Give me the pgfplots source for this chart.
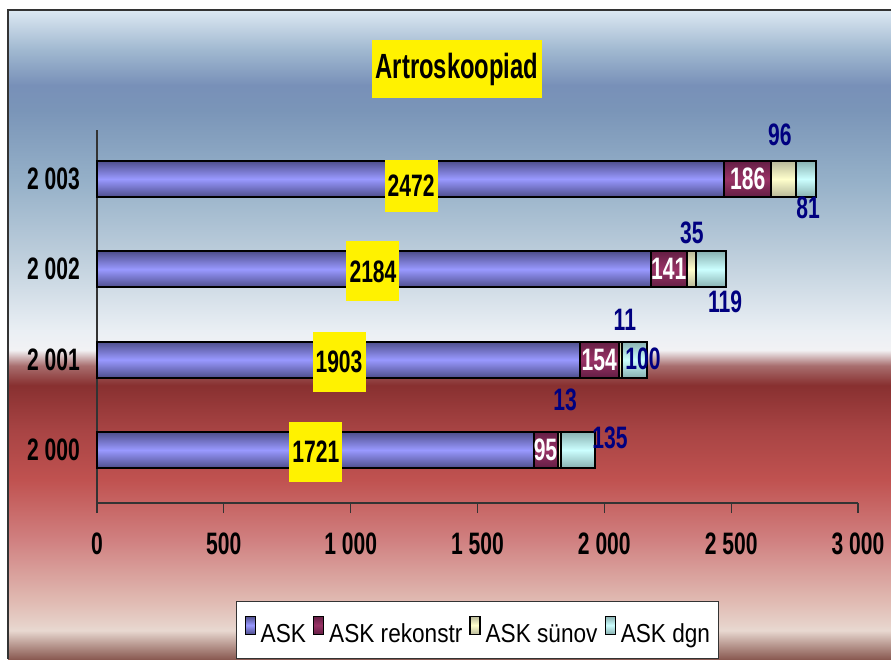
\documentclass[border=0pt]{standalone}
\usepackage{fontspec}
\setmainfont[FakeStretch=0.87]{Liberation Sans}
\newfontfamily\bn[FakeStretch=0.68]{Liberation Sans Bold}
\usepackage{pgfplots}
\pgfplotsset{compat=1.18}
\definecolor{askM}{HTML}{9999FF}\definecolor{askD}{HTML}{4E4E8C}
\definecolor{rekM}{HTML}{993366}\definecolor{rekD}{HTML}{641E44}
\definecolor{sunM}{HTML}{FFFFCC}\definecolor{sunD}{HTML}{B8B898}
\definecolor{dgnM}{HTML}{CCFFFF}\definecolor{dgnD}{HTML}{88B0B0}
\definecolor{navy}{HTML}{000080}
\definecolor{bgA}{RGB}{138,90,82}
\definecolor{bgB}{RGB}{184,152,144}
\definecolor{bgC}{RGB}{232,216,208}
\definecolor{bgD}{RGB}{224,186,178}
\definecolor{bgE}{RGB}{208,128,128}
\definecolor{bgF}{RGB}{192,82,80}
\definecolor{bgG}{RGB}{168,68,68}
\definecolor{bgH}{RGB}{136,48,48}
\definecolor{bgI}{RGB}{168,110,110}
\definecolor{bgJ}{RGB}{242,242,244}
\definecolor{bgK}{RGB}{234,239,244}
\definecolor{bgL}{RGB}{192,208,221}
\definecolor{bgM}{RGB}{149,176,200}
\definecolor{bgN}{RGB}{122,149,184}
\definecolor{bgO}{RGB}{120,144,184}
\definecolor{bgP}{RGB}{160,184,208}
\definecolor{bgQ}{RGB}{220,232,242}
\pgfdeclareverticalshading{bgshade}{100bp}{%
color(0bp)=(bgA); color(25bp)=(bgA); color(26.1bp)=(bgB); color(27.2bp)=(bgC);
color(29.5bp)=(bgD); color(34.2bp)=(bgE); color(38.8bp)=(bgF); color(42.6bp)=(bgG);
color(46.1bp)=(bgH); color(47.6bp)=(bgI); color(48.8bp)=(bgJ); color(50.3bp)=(bgK);
color(55.7bp)=(bgL); color(61.9bp)=(bgM); color(67.3bp)=(bgN); color(69.2bp)=(bgO);
color(71.9bp)=(bgP); color(75bp)=(bgQ); color(100bp)=(bgQ)}
\tikzset{yl/.style={fill=yellow,inner sep=0pt,minimum width=53pt,font=\fontsize{31}{33}\bn},
  wl/.style={text=white,inner sep=0pt,font=\fontsize{31}{33}\bn},
  bl/.style={text=navy,inner sep=0pt,font=\fontsize{31}{33}\bn}}
\newcommand\datalabels{%
\node[yl,minimum height=52pt] at (axis cs:1238,2.923) {2472};
\node[yl,minimum height=60pt] at (axis cs:1088,1.976) {2184};
\node[yl,minimum height=60pt] at (axis cs:954,0.974) {1903};
\node[yl,minimum height=60pt] at (axis cs:863,-0.022) {1721};
\node[wl] at (axis cs:2565,3) {186};
\node[wl] at (axis cs:2254,2) {141};
\node[wl] at (axis cs:1980,1) {154};
\node[wl] at (axis cs:1768,0) {95};
\node[bl] at (axis cs:2692,3.487) {96};
\node[bl] at (axis cs:2345,2.402) {35};
\node[bl] at (axis cs:2081,1.439) {11};
\node[bl] at (axis cs:1845,0.554) {13};
\node[bl] at (axis cs:2803,2.679) {81};
\node[bl] at (axis cs:2476,1.638) {119};
\node[bl] at (axis cs:2152,1.007) {100};
\node[bl] at (axis cs:2022,0.133) {135};}
\pgfplotsset{
  base/.style={clip=false, at={(97pt,156pt)}, anchor=south west,
    width=761pt, height=373pt, scale only axis,
    xbar stacked, bar width=0.4,
    xmin=0, xmax=3000, ymin=-0.587, ymax=3.542,
    every axis plot/.append style={draw=black,line width=2pt}},
  sASK/.style={draw=black,top color=askD,bottom color=askD,middle color=askM},
  sREK/.style={draw=black,top color=rekD,bottom color=rekD,middle color=rekM},
  sSUN/.style={draw=black,top color=sunD,bottom color=sunD,middle color=sunM},
  sDGN/.style={draw=black,top color=dgnD,bottom color=dgnD,middle color=dgnM},
}
\begin{document}
\begin{tikzpicture}[x=1pt,y=1pt]
\useasboundingbox (0,0) rectangle (891,659);
\clip (0,0) rectangle (891,659);
\fill[white] (0,0) rectangle (891,659);
\shade[shading=bgshade] (8,0) rectangle (891,649);
\draw[line width=2pt,black!80] (8,0) -- (8,649) -- (891,649);
\node[fill=yellow,minimum width=170pt,minimum height=58pt,inner sep=0pt,font=\fontsize{35}{37}\bn] at (457,590) {Artroskoopiad};
% category 2000 with axes and legend
\begin{axis}[base,
  axis x line=bottom, axis y line=left,
  axis line style={line width=1.5pt,black!80,-},
  xtick={0,500,1000,1500,2000,2500,3000},
  xticklabels={0,500,1 000,1 500,2 000,2 500,3 000},
  ytick={0,1,2,3},
  yticklabels={2 000,2 001,2 002,2 003},
  tick align=outside, major tick length=10pt,
  x tick style={line width=1.2pt,black!80},
  y tick style={draw=none},
  xticklabel style={font=\fontsize{31}{33}\bn,inner sep=0pt,anchor=north,yshift=-20pt},
  yticklabel style={font=\fontsize{31}{33}\bn,inner sep=0pt,anchor=east,xshift=-7pt},
  legend columns=4,
  legend style={at={(0.1827,-0.263)},anchor=north west,fill=white,draw=black!80,line width=1pt,
    font=\fontsize{26}{28}\selectfont,inner xsep=8pt,inner ysep=14pt,
    nodes={inner sep=0pt},
    /tikz/every odd column/.append style={column sep=5pt},
    /tikz/every even column/.append style={column sep=7pt}},
  legend image code/.code={\draw[#1,line width=1.2pt] (0pt,0pt) rectangle (10pt,18pt);},
]
\addplot[sASK] coordinates {(1721,0)};
\addplot[sREK] coordinates {(95,0)};
\addplot[sSUN] coordinates {(13,0)};
\addplot[sDGN] coordinates {(135,0)};
\legend{ASK,ASK rekonstr,ASK sünov,ASK dgn}
\end{axis}
% category 2001
\begin{axis}[base, hide axis]
\addplot[sASK] coordinates {(1903,1)};
\addplot[sREK] coordinates {(154,1)};
\addplot[sSUN] coordinates {(11,1)};
\addplot[sDGN] coordinates {(100,1)};
\end{axis}
% category 2002
\begin{axis}[base, hide axis]
\addplot[sASK] coordinates {(2184,2)};
\addplot[sREK] coordinates {(141,2)};
\addplot[sSUN] coordinates {(35,2)};
\addplot[sDGN] coordinates {(119,2)};
\end{axis}
% category 2003 + data labels
\begin{axis}[base, hide axis, after end axis/.code={\datalabels}]
\addplot[sASK] coordinates {(2472,3)};
\addplot[sREK] coordinates {(186,3)};
\addplot[sSUN] coordinates {(96,3)};
\addplot[sDGN] coordinates {(81,3)};
\end{axis}
\end{tikzpicture}
\end{document}
